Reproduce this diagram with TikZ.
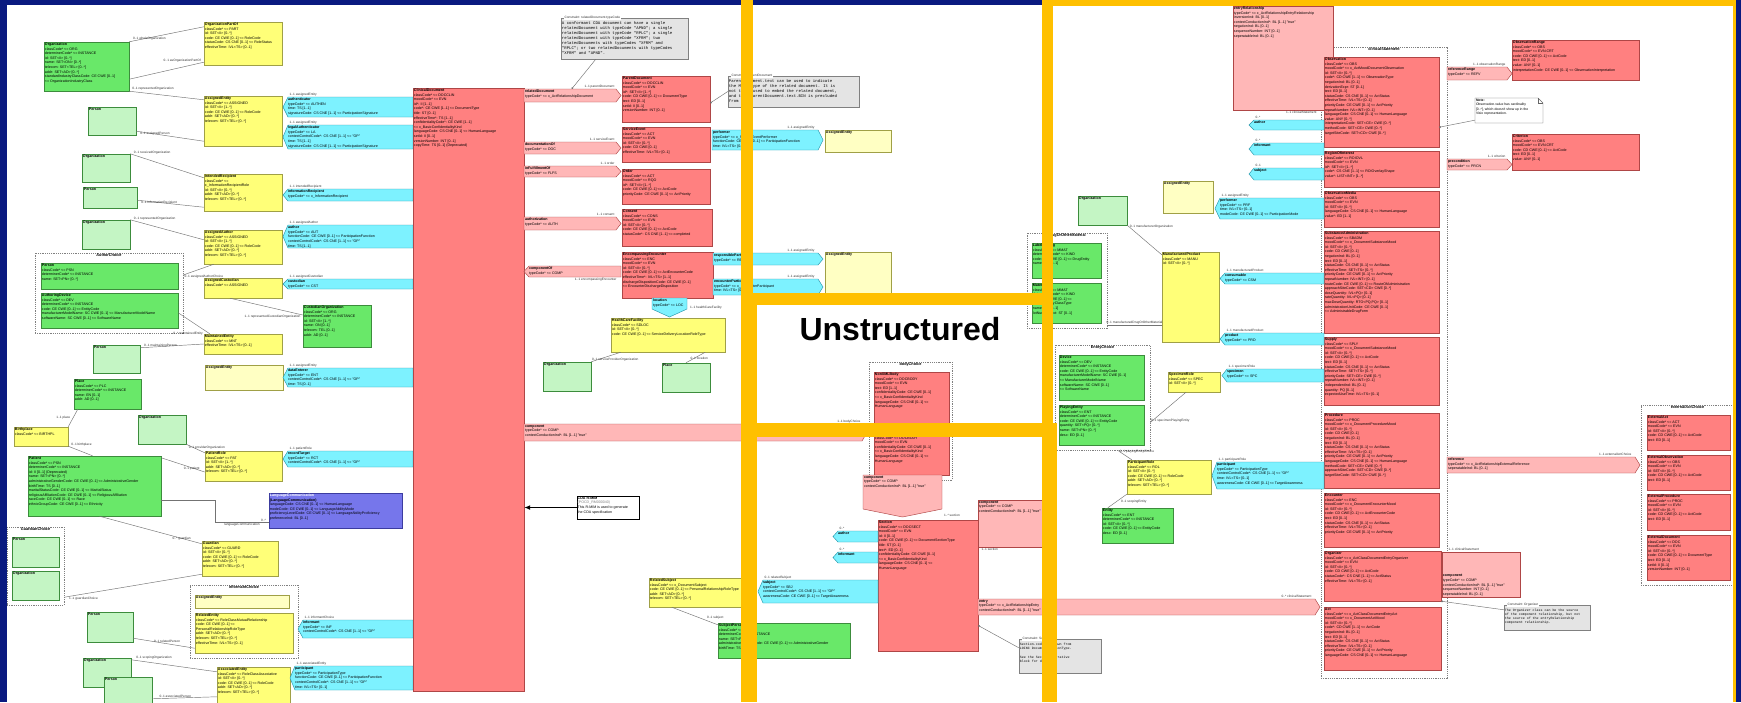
\documentclass[tikz,border=0pt]{standalone}
\usepackage{fontspec}
\usetikzlibrary{fit,arrows.meta}
\newfontfamily\dfont{Liberation Sans}
\newfontfamily\mfont{Liberation Mono}
\definecolor{bgblue}{RGB}{10,26,128}
\definecolor{goldbar}{RGB}{255,192,0}
\definecolor{actfill}{RGB}{255,128,128}
\definecolor{actline}{RGB}{175,70,70}
\definecolor{relfill}{RGB}{255,183,183}
\definecolor{rolefill}{RGB}{255,255,120}
\definecolor{roleline}{RGB}{160,160,70}
\definecolor{refrolefill}{RGB}{255,255,195}
\definecolor{entfill}{RGB}{105,232,105}
\definecolor{entline}{RGB}{60,140,60}
\definecolor{refentfill}{RGB}{196,245,196}
\definecolor{partfill}{RGB}{125,242,255}
\definecolor{partline}{RGB}{40,150,170}
\definecolor{langfill}{RGB}{118,118,235}
\definecolor{langline}{RGB}{60,60,160}
\definecolor{notefill}{RGB}{228,228,228}
\tikzset{
  base/.style={inner sep=0pt, line width=0.45pt},
  act/.style={base, draw=actline, fill=actfill},
  rel/.style={base, draw=actline, fill=relfill},
  role/.style={base, draw=roleline, fill=rolefill},
  rrole/.style={base, draw=roleline, fill=refrolefill},
  ent/.style={base, draw=entline, fill=entfill},
  rent/.style={base, draw=entline, fill=refentfill},
  part/.style={base, draw=partline, fill=partfill},
  langc/.style={base, draw=langline, fill=langfill},
  gnote/.style={base, draw=black!50, fill=notefill},
  choicebox/.style={base, draw=black!50, dash pattern=on 1.2pt off 1pt},
  txt/.style={font=\dfont\fontsize{3.6}{4.6}\selectfont, align=left, inner sep=1pt, text=black},
  mtxt/.style={font=\mfont\fontsize{4}{4.9}\selectfont, align=left, inner sep=1pt, text=black},
  ctitle/.style={font=\dfont\bfseries\fontsize{3.8}{4.6}\selectfont, inner sep=1pt},
  lab/.style={font=\dfont\fontsize{3.2}{3.8}\selectfont, inner sep=0.6pt, text=black!80},
  conn/.style={draw=black!55, line width=0.45pt},
  dotend/.style={conn, -{Circle[length=1.8pt]}},
}
\newcommand\cls[7]{%
  \node[#2, fit={(#3,#4) (#5,#6)}] (#1) {};
  \node[txt, anchor=north west] (#1-t) at (#1.north west) {#7};}
\newcommand\ptrL[7]{%
  \path[#2] ({#3+5},#4) -- (#5,#4) -- (#5,#6) -- ({#3+5},#6) -- (#3,{(#4+#6)/2}) -- cycle;
  \node[fit={(#3,#4) (#5,#6)}, inner sep=0pt] (#1) {};
  \node[txt, anchor=north west] (#1-t) at ([xshift=4pt]#1.north west) {#7};}
\newcommand\ptrR[7]{%
  \path[#2] (#3,#4) -- ({#5-5},#4) -- (#5,{(#4+#6)/2}) -- ({#5-5},#6) -- (#3,#6) -- cycle;
  \node[fit={(#3,#4) (#5,#6)}, inner sep=0pt] (#1) {};
  \node[txt, anchor=north west] (#1-t) at (#1.north west) {#7};}
\newcommand\ptrD[7]{%
  \path[#2] (#3,#4) -- (#5,#4) -- (#5,{#6-8}) -- ({(#3+#5)/2},#6) -- (#3,{#6-8}) -- cycle;
  \node[fit={(#3,#4) (#5,#6)}, inner sep=0pt] (#1) {};
  \node[txt, anchor=north west] (#1-t) at (#1.north west) {#7};}
\newcommand\chbox[6]{%
  \node[choicebox, fit={(#2,#3) (#4,#5)}] (#1) {};
  \node[ctitle, anchor=north] (#1-t) at (#1.north) {#6};}
\newcommand\plab[3]{\node[lab, anchor=south west] (#1-l) at ([xshift=#2]#1.north west) {#3};}
\newcommand\plabr[3]{\node[lab, anchor=south east] (#1-l) at ([xshift=#2]#1.north east) {#3};}
\begin{document}
\begin{tikzpicture}[x=1pt,y=-1pt]
\useasboundingbox (0,0) rectangle (1741,702);
\fill[bgblue] (0,0) rectangle (1741,702);
\fill[white] (7,5) rectangle (1736,702);

% ================= LEFT PANEL =================
\cls{org1}{ent}{44}{42}{129}{91}{\textbf{Organization}\\classCode* <= ORG\\determinerCode* <= INSTANCE\\id: SET<II> [0..*]\\name: SET<ON> [0..*]\\telecom: SET<TEL> [0..*]\\addr: SET<AD> [0..*]\\standardIndustryClassCode: CE CWE [0..1]\\<= OrganizationIndustryClass}
\cls{orgPart}{role}{204}{22}{282}{65}{\textbf{OrganizationPartOf}\\classCode* <= PART\\id: SET<II> [0..*]\\code: CE CWE [0..1] <= RoleCode\\statusCode: CS CNE [0..1] <= RoleStatus\\effectiveTime: IVL<TS> [0..1]}
\cls{ae1}{role}{204}{96}{282}{146}{\textbf{AssignedEntity}\\classCode* <= ASSIGNED\\id: SET<II> [1..*]\\code: CE CWE [0..1] <= RoleCode\\addr: SET<AD> [0..*]\\telecom: SET<TEL> [0..*]}
\cls{per1}{rent}{88}{107}{136}{135}{\textbf{Person}}
\ptrL{authen}{part}{283}{97}{413}{117}{\textbf{authenticator}\\typeCode* <= AUTHEN\\time: TS [1..1]\\signatureCode: CS CNE [1..1] <= ParticipationSignature}
\ptrL{legal}{part}{283}{125}{413}{149}{\textbf{legalAuthenticator}\\typeCode* <= LA\\contextControlCode*: CS CNE [1..1] <= "OP"\\time: TS [1..1]\\signatureCode: CS CNE [1..1] <= ParticipationSignature}
\cls{org2}{rent}{82}{154}{130}{182}{\textbf{Organization}}
\cls{per2}{rent}{83}{187}{137}{208}{\textbf{Person}}
\cls{intRec}{role}{204}{174}{282}{211}{\textbf{IntendedRecipient}\\classCode* <=\\x\_InformationRecipientRole\\id: SET<II> [0..*]\\addr: SET<AD> [0..*]\\telecom: SET<TEL> [0..*]}
\ptrL{infoRec}{part}{283}{189}{413}{201}{\textbf{informationRecipient}\\typeCode* <= x\_InformationRecipient}
\cls{org3}{rent}{82}{220}{130}{249}{\textbf{Organization}}
\cls{asAuthor}{role}{204}{230}{282}{264}{\textbf{AssignedAuthor}\\classCode* <= ASSIGNED\\id: SET<II> [1..*]\\code: CE CWE [0..1] <= RoleCode\\addr: SET<AD> [0..*]\\telecom: SET<TEL> [0..*]}
\ptrL{author}{part}{283}{225}{413}{248}{\textbf{author}\\typeCode* <= AUT\\functionCode: CE CWE [0..1] <= ParticipationFunction\\contextControlCode*: CS CNE [1..1] <= "OP"\\time: TS [1..1]}
\chbox{authChoice}{35}{253}{183}{333}{AuthorChoice}
\cls{per3}{ent}{41}{263}{178}{289}{\textbf{Person}\\classCode* <= PSN\\determinerCode* <= INSTANCE\\name: SET<PN> [0..*]}
\cls{authDev}{ent}{41}{293}{178}{328}{\textbf{AuthoringDevice}\\classCode* <= DEV\\determinerCode* <= INSTANCE\\code: CE CWE [0..1] <= EntityCode\\manufacturerModelName: SC CWE [0..1] <= ManufacturerModelName\\softwareName: SC CWE [0..1] <= SoftwareName}
\cls{asCust}{role}{204}{278}{282}{298}{\textbf{AssignedCustodian}\\classCode* <= ASSIGNED}
\ptrL{custodian}{part}{283}{279}{413}{289}{\textbf{custodian}\\typeCode* <= CST}
\cls{custOrg}{ent}{303}{305}{371}{347}{\textbf{CustodianOrganization}\\classCode* <= ORG\\determinerCode* <= INSTANCE\\id: SET<II> [1..*]\\name: ON [0..1]\\telecom: TEL [0..1]\\addr: AD [0..1]}
\cls{maint}{role}{204}{334}{282}{354}{\textbf{MaintainedEntity}\\classCode* <= MNT\\effectiveTime: IVL<TS> [0..1]}
\cls{per4}{rent}{93}{345}{140}{373}{\textbf{Person}}
\cls{ae2}{rrole}{205}{365}{283}{390}{\textbf{AssignedEntity}}
\ptrL{dataEnt}{part}{283}{368}{413}{387}{\textbf{dataEnterer}\\typeCode* <= ENT\\contextControlCode*: CS CNE [1..1] <= "OP"\\time: TS [0..1]}
\cls{place}{ent}{74}{379}{141}{409}{\textbf{Place}\\classCode* <= PLC\\determinerCode* <= INSTANCE\\name: EN [0..1]\\addr: AD [0..1]}
\cls{birth}{role}{14}{427}{68}{446}{\textbf{Birthplace}\\classCode* <= BIRTHPL}
\cls{org4}{rent}{138}{415}{186}{444}{\textbf{Organization}}
\cls{patRole}{role}{205}{451}{282}{481}{\textbf{PatientRole}\\classCode* <= PAT\\id: SET<II> [1..*]\\addr: SET<AD> [0..*]\\telecom: SET<TEL> [0..*]}
\ptrL{recTarget}{part}{283}{451}{413}{467}{\textbf{recordTarget}\\typeCode* <= RCT\\contextControlCode*: CS CNE [1..1] <= "OP"}
\cls{patient}{ent}{28}{456}{161}{516}{\textbf{Patient}\\classCode* <= PSN\\determinerCode* <= INSTANCE\\id: II [0..1] (Deprecated)\\name: SET<PN> [0..*]\\administrativeGenderCode: CE CWE [0..1] <= AdministrativeGender\\birthTime: TS [0..1]\\maritalStatusCode: CE CWE [0..1] <= MaritalStatus\\religiousAffiliationCode: CE CWE [0..1] <= ReligiousAffiliation\\raceCode: CE CWE [0..1] <= Race\\ethnicGroupCode: CE CWE [0..1] <= Ethnicity}
\cls{lang}{langc}{269}{493}{402}{528}{\color{white}\textbf{LanguageCommunication}\\\textbf{(LanguageCommunication)}\\languageCode: CS CNE [0..1] <= HumanLanguage\\modeCode: CE CWE [0..1] <= LanguageAbilityMode\\proficiencyLevelCode: CE CWE [0..1] <= LanguageAbilityProficiency\\preferenceInd: BL [0..1]}
\chbox{guardChoice}{7}{527}{64}{605}{GuardianChoice}
\cls{per5}{rent}{12}{537}{59}{567}{\textbf{Person}}
\cls{org5}{rent}{12}{571}{59}{600}{\textbf{Organization}}
\cls{guardian}{role}{202}{541}{278}{576}{\textbf{Guardian}\\classCode* <= GUARD\\id: SET<II> [0..*]\\code: CE CWE [0..1] <= RoleCode\\addr: SET<AD> [0..*]\\telecom: SET<TEL> [0..*]}
\chbox{infChoice}{190}{585}{298}{658}{informantChoice}
\cls{ae3}{rrole}{195}{595}{289}{608}{\textbf{AssignedEntity}}
\cls{relEnt}{role}{195}{613}{293}{653}{\textbf{RelatedEntity}\\classCode* <= RoleClassMutualRelationship\\code: CE CWE [0..1] <=\\PersonalRelationshipRoleType\\addr: SET<AD> [0..*]\\telecom: SET<TEL> [0..*]\\effectiveTime: IVL<TS> [0..1]}
\cls{per6}{rent}{87}{612}{133}{642}{\textbf{Person}}
\ptrL{informant}{part}{298}{620}{413}{638}{\textbf{informant}\\typeCode* <= INF\\contextControlCode*: CS CNE [1..1] <= "OP"}
\cls{org6}{rent}{83}{658}{131}{687}{\textbf{Organization}}
\cls{per7}{rent}{104}{677}{152}{708}{\textbf{Person}}
\cls{assocEnt}{role}{217}{667}{290}{708}{\textbf{AssociatedEntity}\\classCode* <= RoleClassAssociative\\id: SET<II> [0..*]\\code: CE CWE [0..1] <= RoleCode\\addr: SET<AD> [0..*]\\telecom: SET<TEL> [0..*]}
\ptrL{partic}{part}{290}{666}{413}{690}{\textbf{participant}\\typeCode* <= ParticipationType\\functionCode: CE CWE [0..1] <= ParticipationFunction\\contextControlCode*: CS CNE [1..1] <= "OP"\\time: IVL<TS> [0..1]}

\cls{clinDoc}{act}{413}{88}{524}{691}{\textbf{ClinicalDocument}\\classCode* <= DOCCLIN\\moodCode* <= EVN\\id*: II [1..1]\\code*: CE CWE [1..1] <= DocumentType\\title: ST [0..1]\\effectiveTime*: TS [1..1]\\confidentialityCode*: CE CWE [1..1]\\<= x\_BasicConfidentialityKind\\languageCode: CS CNE [0..1] <= HumanLanguage\\setId: II [0..1]\\versionNumber: INT [0..1]\\copyTime: TS [0..1] (Deprecated)}

\node[gnote, fit={(561,18) (688,59)}] (note1) {};
\node[mtxt, anchor=north west] (note1-t) at ([yshift=-3pt]note1.north west) {A conformant CDA document can have a single\\relatedDocument with typeCode "APND"; a single\\relatedDocument with typeCode "RPLC"; a single\\relatedDocument with typeCode "XFRM"; two\\relatedDocuments with typeCodes "XFRM" and\\"RPLC"; or two relatedDocuments with typeCodes\\"XFRM" and "APND".};
\node[lab, anchor=west, fill=white] (note1-h) at ([xshift=3pt]note1.north west) {Constraint: relatedDocument.typeCode};

\ptrR{relDoc}{rel}{524}{89}{621}{102}{\textbf{relatedDocument}\\typeCode* <= x\_ActRelationshipDocument}
\cls{parentDoc}{act}{622}{76}{710}{122}{\textbf{ParentDocument}\\classCode* <= DOCCLIN\\moodCode* <= EVN\\id*: SET<II> [1..*]\\code: CD CWE [0..1] <= DocumentType\\text: ED [0..1]\\setId: II [0..1]\\versionNumber: INT [0..1]}
\ptrR{docOf}{rel}{524}{142}{621}{154}{\textbf{documentationOf}\\typeCode* <= DOC}
\cls{servEvt}{act}{622}{127}{710}{162}{\textbf{ServiceEvent}\\classCode* <= ACT\\moodCode* <= EVN\\id: SET<II> [0..*]\\code: CD CWE [0..1]\\effectiveTime: IVL<TS> [0..1]}
\ptrR{perf1}{part}{712}{130}{823}{150}{\textbf{performer}\\typeCode* <= x\_ServiceEventPerformer\\functionCode: CE CWE [0..1] <= ParticipationFunction\\time: IVL<TS> [0..1]}
\cls{ae4}{rrole}{825}{130}{891}{152}{\textbf{AssignedEntity}}
\ptrR{inFul}{rel}{524}{166}{621}{177}{\textbf{inFulfillmentOf}\\typeCode* <= FLFS}
\cls{order}{act}{622}{169}{710}{204}{\textbf{Order}\\classCode* <= ACT\\moodCode* <= RQO\\id*: SET<II> [1..*]\\code: CE CWE [0..1] <= ActCode\\priorityCode: CE CWE [0..1] <= ActPriority}
\ptrR{authz}{rel}{524}{217}{621}{230}{\textbf{authorization}\\typeCode* <= AUTH}
\cls{consent}{act}{622}{209}{712}{246}{\textbf{Consent}\\classCode* <= CONS\\moodCode* <= EVN\\id: SET<II> [0..*]\\code: CE CWE [0..1] <= ActCode\\statusCode*: CS CNE [1..1] <= completed}
\ptrL{compOf}{rel}{524}{266}{621}{277}{\textbf{componentOf}\\typeCode* <= COMP}
\cls{encEnc}{act}{622}{252}{713}{298}{\textbf{EncompassingEncounter}\\classCode* <= ENC\\moodCode* <= EVN\\id: SET<II> [0..*]\\code: CE CWE [0..1] <= ActEncounterCode\\effectiveTime*: IVL<TS> [1..1]\\dischargeDispositionCode: CE CWE [0..1]\\<= EncounterDischargeDisposition}
\ptrR{respParty}{part}{713}{253}{823}{265}{\textbf{responsibleParty}\\typeCode* <= RESP}
\ptrR{encPart}{part}{713}{279}{823}{295}{\textbf{encounterParticipant}\\typeCode* <= x\_EncounterParticipant\\time: IVL<TS> [0..1]}
\cls{ae5}{rrole}{825}{252}{891}{300}{\textbf{AssignedEntity}}
\ptrD{location}{part}{652}{298}{687}{317}{\textbf{location}\\typeCode* <= LOC}
\cls{hcf}{role}{611}{318}{725}{352}{\textbf{HealthCareFacility}\\classCode* <= SDLOC\\id: SET<II> [0..*]\\code: CE CWE [0..1] <= ServiceDeliveryLocationRoleType}
\cls{org7}{rent}{543}{362}{591}{391}{\textbf{Organization}}
\cls{place2}{rent}{662}{363}{710}{392}{\textbf{Place}}
\ptrR{comp1}{rel}{524}{424}{867}{441}{\textbf{component}\\typeCode* <= COMP\\contextConductionInd*: BL [1..1] "true"}
\node[base, draw=black, line width=1pt, fill=white, fit={(577,496) (639,519)}] (cdaNote) {};
\node[txt, anchor=north west] (cdaNote-t) at (cdaNote.north west) {\textbf{CDA R-MIM}\\{\color{black!50}(POCD\_RM000040)}\\This R-MIM is used to generate\\the CDA specification};
\draw[line width=1.3pt, -{Latex[length=6pt,width=5pt]}] (cdaNote.west) -- (cdaNote.west -| clinDoc.east);
\cls{relSubj}{role}{649}{578}{752}{607}{\textbf{RelatedSubject}\\classCode* <= x\_DocumentSubject\\code: CE CWE [0..1] <= PersonalRelationshipRoleType\\addr: SET<AD> [0..*]\\telecom: SET<TEL> [0..*]}
\cls{subjPer}{ent}{718}{623}{850}{658}{\textbf{SubjectPerson}\\classCode* <= PSN\\determinerCode* <= INSTANCE\\name: SET<PN> [0..*]\\administrativeGenderCode: CE CWE [0..1] <= AdministrativeGender\\birthTime: TS [0..1]}

% ================= MIDDLE PANEL =================
\node[gnote, fit={(728,76) (859,107)}] (note2) {};
\node[mtxt, anchor=north west] (note2-t) at ([yshift=-3pt]note2.north west) {ParentDocument.text can be used to indicate\\the MIME type of the related document. It is\\not to be used to embed the related document,\\and thus ParentDocument.text.BIN is precluded\\from use.};
\node[lab, anchor=west, fill=white] (note2-h) at ([xshift=3pt]note2.north west) {Constraint: ParentDocument};

\node[font=\dfont\bfseries\fontsize{32}{36}\selectfont, anchor=base, inner sep=0pt] (unstr) at (900,340) {Unstructured};
\chbox{bodyChoice}{869}{362}{952}{480}{bodyChoice}
\cls{nonXML}{act}{874}{372}{949}{430}{\textbf{NonXMLBody}\\classCode* <= DOCBODY\\moodCode* <= EVN\\text: ED [1..1]\\confidentialityCode: CE CWE [0..1]\\<= x\_BasicConfidentialityKind\\languageCode: CS CNE [0..1] <=\\HumanLanguage}
\cls{structBody}{act}{874}{431}{949}{475}{\textbf{StructuredBody}\\classCode* <= DOCBODY\\moodCode* <= EVN\\confidentialityCode: CE CWE [0..1]\\<= x\_BasicConfidentialityKind\\languageCode: CS CNE [0..1] <=\\HumanLanguage}
\ptrD{comp2}{rel}{863}{475}{942}{517}{\textbf{component}\\typeCode* <= COMP\\contextConductionInd*: BL [1..1] "true"}
\cls{section}{act}{878}{520}{978}{651}{\textbf{Section}\\classCode* <= DOCSECT\\moodCode* <= EVN\\id: II [0..1]\\code: CE CWE [0..1] <= DocumentSectionType\\title: ST [0..1]\\text*: ED [0..1]\\confidentialityCode: CE CWE [0..1]\\<= x\_BasicConfidentialityKind\\languageCode: CS CNE [0..1] <=\\HumanLanguage}
\ptrL{author2}{part}{833}{531}{878}{542}{\textbf{author}}
\ptrL{inform2}{part}{833}{552}{878}{563}{\textbf{informant}}
\ptrL{subj2}{part}{758}{580}{878}{603}{\textbf{subject}\\typeCode* <= SBJ\\contextControlCode*: CS CNE [1..1] <= "OP"\\awarenessCode: CE CWE [0..1] <= TargetAwareness}
\cls{comp3}{rel}{978}{500}{1052}{547}{\textbf{component}\\typeCode* <= COMP\\contextConductionInd*: BL [1..1] "true"}
\ptrR{entry}{rel}{978}{599}{1320}{615}{\textbf{entry}\\typeCode* <= x\_ActRelationshipEntry\\contextConductionInd*: BL [1..1] "true"}
\node[gnote, fit={(1019,639) (1101,673)}] (note3) {};
\node[mtxt, font=\mfont\fontsize{3.3}{4.3}\selectfont, anchor=north west] (note3-t) at ([yshift=-3pt]note3.north west) {Section.code is drawn from\\LOINC DocumentSectionType.\\\\See the Section narrative\\block for details.};
\node[lab, anchor=west, fill=white] (note3-h) at ([xshift=3pt]note3.north west) {Constraint: Section};

% ================= RIGHT PANEL =================
\chbox{clinStmt}{1321}{47}{1447}{678}{clinicalStatement}
\cls{entryRel}{rel}{1233}{6}{1333}{110}{\textbf{entryRelationship}\\typeCode* <= x\_ActRelationshipEntryRelationship\\inversionInd: BL [0..1]\\contextConductionInd*: BL [1..1] "true"\\negationInd: BL [0..1]\\sequenceNumber: INT [0..1]\\seperatableInd: BL [0..1]}
\cls{obs}{act}{1324}{57}{1439}{147}{\textbf{Observation}\\classCode* <= OBS\\moodCode* <= x\_ActMoodDocumentObservation\\id: SET<II> [0..*]\\code*: CD CWE [1..1] <= ObservationType\\negationInd: BL [0..1]\\derivationExpr: ST [0..1]\\text: ED [0..1]\\statusCode: CS CNE [0..1] <= ActStatus\\effectiveTime: IVL<TS> [0..1]\\priorityCode: CE CWE [0..1] <= ActPriority\\repeatNumber: IVL<INT> [0..1]\\languageCode: CS CNE [0..1] <= HumanLanguage\\value: ANY [0..*]\\interpretationCode: SET<CE> CWE [0..*]\\methodCode: SET<CE> CWE [0..*]\\targetSiteCode: SET<CD> CWE [0..*]}
\cls{roi}{act}{1324}{151}{1439}{187}{\textbf{RegionOfInterest}\\classCode* <= ROIOVL\\moodCode* <= EVN\\id*: SET<II> [1..*]\\code*: CS CNE [1..1] <= ROIOverlayShape\\value*: LIST<INT> [1..*]}
\cls{obsMedia}{act}{1324}{191}{1439}{227}{\textbf{ObservationMedia}\\classCode* <= OBS\\moodCode* <= EVN\\id: SET<II> [0..*]\\languageCode: CS CNE [0..1] <= HumanLanguage\\value*: ED [1..1]}
\cls{subAdm}{act}{1324}{231}{1439}{333}{\textbf{SubstanceAdministration}\\classCode* <= SBADM\\moodCode* <= x\_DocumentSubstanceMood\\id: SET<II> [0..*]\\code: CD CWE [0..1]\\negationInd: BL [0..1]\\text: ED [0..1]\\statusCode: CS CNE [0..1] <= ActStatus\\effectiveTime: SET<TS> [0..*]\\priorityCode: CE CWE [0..1] <= ActPriority\\repeatNumber: IVL<INT> [0..1]\\routeCode: CE CWE [0..1] <= RouteOfAdministration\\approachSiteCode: SET<CD> CWE [0..*]\\doseQuantity: IVL<PQ> [0..1]\\rateQuantity: IVL<PQ> [0..1]\\maxDoseQuantity: RTO<PQ,PQ> [0..1]\\administrationUnitCode: CE CWE [0..1]\\<= AdministrableDrugForm}
\cls{supply}{act}{1324}{337}{1439}{405}{\textbf{Supply}\\classCode* <= SPLY\\moodCode* <= x\_DocumentSubstanceMood\\id: SET<II> [0..*]\\code: CD CWE [0..1] <= ActCode\\text: ED [0..1]\\statusCode: CS CNE [0..1] <= ActStatus\\effectiveTime: SET<TS> [0..*]\\priorityCode: SET<CE> CWE [0..*]\\repeatNumber: IVL<INT> [0..1]\\independentInd: BL [0..1]\\quantity: PQ [0..1]\\expectedUseTime: IVL<TS> [0..1]}
\cls{proc}{act}{1324}{413}{1439}{488}{\textbf{Procedure}\\classCode* <= PROC\\moodCode* <= x\_DocumentProcedureMood\\id: SET<II> [0..*]\\code: CD CWE [0..1]\\negationInd: BL [0..1]\\text: ED [0..1]\\statusCode: CS CNE [0..1] <= ActStatus\\effectiveTime: IVL<TS> [0..1]\\priorityCode: CE CWE [0..1] <= ActPriority\\languageCode: CS CNE [0..1] <= HumanLanguage\\methodCode: SET<CE> CWE [0..*]\\approachSiteCode: SET<CD> CWE [0..*]\\targetSiteCode: SET<CD> CWE [0..*]}
\cls{encB}{act}{1324}{493}{1439}{547}{\textbf{Encounter}\\classCode* <= ENC\\moodCode* <= x\_DocumentEncounterMood\\id: SET<II> [0..*]\\code: CD CWE [0..1] <= ActEncounterCode\\text: ED [0..1]\\statusCode: CS CNE [0..1] <= ActStatus\\effectiveTime: IVL<TS> [0..1]\\priorityCode: CE CWE [0..1] <= ActPriority}
\cls{organizer}{act}{1324}{551}{1441}{601}{\textbf{Organizer}\\classCode* <= x\_ActClassDocumentEntryOrganizer\\moodCode* <= EVN\\id: SET<II> [0..*]\\code: CD CWE [0..1] <= ActCode\\statusCode*: CS CNE [1..1] <= ActStatus\\effectiveTime: IVL<TS> [0..1]}
\cls{actB}{act}{1324}{607}{1441}{670}{\textbf{Act}\\classCode* <= x\_ActClassDocumentEntryAct\\moodCode* <= x\_DocumentActMood\\id: SET<II> [0..*]\\code*: CD CWE [1..1] <= ActCode\\negationInd: BL [0..1]\\text: ED [0..1]\\statusCode: CS CNE [0..1] <= ActStatus\\effectiveTime: IVL<TS> [0..1]\\priorityCode: CE CWE [0..1] <= ActPriority\\languageCode: CS CNE [0..1] <= HumanLanguage}

\ptrL{author3}{part}{1249}{120}{1324}{130}{\textbf{author}}
\ptrL{inform3}{part}{1249}{143}{1324}{155}{\textbf{informant}}
\ptrL{subj3}{part}{1249}{168}{1324}{180}{\textbf{subject}}
\cls{ae6}{rrole}{1163}{181}{1213}{213}{\textbf{AssignedEntity}}
\ptrL{perf3}{part}{1215}{198}{1324}{219}{\textbf{performer}\\typeCode* <= PRF\\time: IVL<TS> [0..1]\\modeCode: CE CWE [0..1] <= ParticipationMode}
\cls{org8}{rent}{1078}{196}{1127}{225}{\textbf{Organization}}
\cls{manuProd}{role}{1162}{252}{1219}{342}{\textbf{ManufacturedProduct}\\classCode* <= MANU\\id: SET<II> [0..*]}
\ptrL{consum}{part}{1220}{273}{1324}{284}{\textbf{consumable}\\typeCode* <= CSM}
\ptrL{product}{part}{1220}{333}{1324}{345}{\textbf{product}\\typeCode* <= PRD}
\chbox{drugChoice}{1027}{233}{1107}{328}{drugOrOtherMaterial}
\cls{labDrug}{ent}{1032}{243}{1101}{278}{\textbf{LabeledDrug}\\classCode* <= MMAT\\determinerCode* <= KIND\\code: CE CWE [0..1] <= DrugEntity\\name: EN [0..1]}
\cls{material}{ent}{1032}{283}{1101}{323}{\textbf{Material}\\classCode* <= MMAT\\determinerCode* <= KIND\\code: CE CWE [0..1] <=\\MaterialEntityClassType\\name: EN [0..1]\\lotNumberText: ST [0..1]}
\chbox{entChoice}{1055}{345}{1150}{450}{EntityChoice}
\cls{device}{ent}{1059}{355}{1144}{400}{\textbf{Device}\\classCode* <= DEV\\determinerCode* <= INSTANCE\\code: CE CWE [0..1] <= EntityCode\\manufacturerModelName: SC CWE [0..1]\\<= ManufacturerModelName\\softwareName: SC CWE [0..1]\\<= SoftwareName}
\cls{playEnt}{ent}{1059}{405}{1144}{445}{\textbf{PlayingEntity}\\classCode* <= ENT\\determinerCode* <= INSTANCE\\code: CE CWE [0..1] <= EntityCode\\quantity: SET<PQ> [0..*]\\name: SET<PN> [0..*]\\desc: ED [0..1]}
\cls{specRole}{role}{1168}{372}{1220}{392}{\textbf{SpecimenRole}\\classCode* <= SPEC\\id: SET<II> [0..*]}
\ptrL{specimen}{part}{1222}{369}{1324}{382}{\textbf{specimen}\\typeCode* <= SPC}
\cls{partRole}{role}{1127}{460}{1211}{494}{\textbf{ParticipantRole}\\classCode* <= ROL\\id: SET<II> [0..*]\\code: CE CWE [0..1] <= RoleCode\\addr: SET<AD> [0..*]\\telecom: SET<TEL> [0..*]}
\ptrL{partic2}{part}{1212}{462}{1324}{489}{\textbf{participant}\\typeCode* <= ParticipationType\\contextControlCode*: CS CNE [1..1] <= "OP"\\time: IVL<TS> [0..1]\\awarenessCode: CE CWE [0..1] <= TargetAwareness}
\cls{entity}{ent}{1102}{508}{1173}{543}{\textbf{Entity}\\classCode* <= ENT\\determinerCode* <= INSTANCE\\id: SET<II> [0..*]\\code: CE CWE [0..1] <= EntityCode\\desc: ED [0..1]}

\ptrR{refRange}{rel}{1447}{67}{1512}{80}{\textbf{referenceRange}\\typeCode* <= REFV}
\cls{obsRange}{act}{1512}{40}{1639}{80}{\textbf{ObservationRange}\\classCode* <= OBS\\moodCode* <= EVN.CRT\\code: CD CWE [0..1] <= ActCode\\text: ED [0..1]\\value: ANY [0..1]\\interpretationCode: CE CWE [0..1] <= ObservationInterpretation}
\path[draw=black!60, fill=white, line width=0.4pt] (1475,98) -- (1538,98) -- (1543,103) -- (1543,123) -- (1475,123) -- cycle;
\draw[black!60, line width=0.4pt] (1538,98) -- (1538,103) -- (1543,103);
\node[fit={(1475,98) (1543,123)}, inner sep=0pt] (note4) {};
\node[txt, font=\dfont\fontsize{3.4}{4.5}\selectfont, anchor=north west] (note4-t) at (note4.north west) {\textbf{Note:}\\Observation.value has cardinality\\{}[0..*], which doesn't show up in the\\Visio representation.};
\ptrR{precond}{rel}{1447}{159}{1512}{170}{\textbf{precondition}\\typeCode* <= PRCN}
\cls{criterion}{act}{1512}{134}{1639}{170}{\textbf{Criterion}\\classCode* <= OBS\\moodCode* <= EVN.CRT\\code: CD CWE [0..1] <= ActCode\\text: ED [0..1]\\value: ANY [0..1]}
\chbox{extChoice}{1641}{405}{1734}{585}{externalActChoice}
\cls{extAct}{act}{1647}{415}{1730}{450}{\textbf{ExternalAct}\\classCode* <= ACT\\moodCode* <= EVN\\id: SET<II> [0..*]\\code: CD CWE [0..1] <= ActCode\\text: ED [0..1]}
\cls{extObs}{act}{1647}{455}{1730}{490}{\textbf{ExternalObservation}\\classCode* <= OBS\\moodCode* <= EVN\\id: SET<II> [0..*]\\code: CD CWE [0..1] <= ActCode\\text: ED [0..1]}
\cls{extProc}{act}{1647}{494}{1730}{530}{\textbf{ExternalProcedure}\\classCode* <= PROC\\moodCode* <= EVN\\id: SET<II> [0..*]\\code: CD CWE [0..1] <= ActCode\\text: ED [0..1]}
\cls{extDoc}{act}{1647}{535}{1730}{580}{\textbf{ExternalDocument}\\classCode* <= DOC\\moodCode* <= EVN\\id: SET<II> [0..*]\\code: CD CWE [0..1] <= DocumentType\\text: ED [0..1]\\setId: II [0..1]\\versionNumber: INT [0..1]}
\ptrR{reference}{rel}{1447}{457}{1640}{473}{\textbf{reference}\\typeCode* <= x\_ActRelationshipExternalReference\\seperatableInd: BL [0..1]}
\node[rel, fit={(1442,552) (1520,597)}] (comp4) {};
\node[txt, anchor=south west] (comp4-t) at (comp4.south west) {\textbf{component}\\typeCode* <= COMP\\contextConductionInd*: BL [1..1] "true"\\sequenceNumber: INT [0..1]\\seperatableInd: BL [0..1]};
\node[gnote, fit={(1504,605) (1590,630)}] (note5) {};
\node[mtxt, font=\mfont\fontsize{3.3}{4.2}\selectfont, anchor=north west] (note5-t) at ([yshift=-3pt]note5.north west) {The Organizer class can be the source\\of the component relationship, but not\\the source of the entryRelationship\\component relationship.};
\node[lab, anchor=west, fill=white] (note5-h) at ([xshift=3pt]note5.north west) {Constraint: Organizer};

% ================= CONNECTORS =================
\draw[conn] (org1.north east) -- ([yshift=-5pt]orgPart.north west) node[lab, pos=0.04, anchor=south west] (l1) {0..1 wholeOrganization};
\draw[conn] ([yshift=12pt]org1.south east) -- ([yshift=3pt]orgPart.south west) node[lab, pos=0.97, anchor=south east] (l2) {0..1 asOrganizationPartOf};
\draw[conn] (org1.south east) -- ([yshift=-4pt]ae1.north west) node[lab, pos=0.03, anchor=south west] (l3) {0..1 representedOrganization};
\draw[conn] ([yshift=4pt]per1.south east) -- ([yshift=5pt]ae1.south west) node[lab, pos=0.05, anchor=north west] (l4) {0..1 assignedPerson};
\draw[conn] (org2.north east) -- ([yshift=-4pt]intRec.north west) node[lab, pos=0.04, anchor=south west] (l5) {0..1 receivedOrganization};
\draw[conn] ([yshift=8pt]per2.south east) -- ([yshift=4pt]intRec.south west) node[lab, pos=0.05, anchor=north west] (l6) {0..1 informationRecipient};
\draw[conn] (org3.north east) -- ([yshift=-10pt]asAuthor.north west) node[lab, pos=0.04, anchor=south west] (l7) {0..1 representedOrganization};
\draw[conn] ([yshift=18pt]authChoice.east) -- ([xshift=10pt]asAuthor.south west) node[lab, pos=0.02, anchor=north west] (l8) {0..1 assignedAuthorChoice};
\draw[conn] ([yshift=-20pt]authDev.north east) -- ([xshift=6pt]maint.north west) node[lab, pos=0.9, anchor=north east, xshift=-3pt] (l9) {0..* maintainedEntity};
\draw[conn] ([xshift=-13pt]asCust.south) -- ([yshift=11pt]custOrg.west) node[lab, pos=0.98, anchor=north east] (l10) {1..1 representedCustodianOrganization};
\draw[conn] ([yshift=-3pt]per4.north east) -- (maint.west) node[lab, pos=0.05, anchor=south west] (l11) {0..1 maintainingPerson};
\draw[conn] (birth.north east) -- ([xshift=4pt]place.south west) node[lab, midway, anchor=east, xshift=-2pt] (l12) {1..1 place};
\draw[conn] (birth.south east) -- ([xshift=-2pt]patient.north) node[lab, pos=0.1, anchor=south west] (l13) {0..1 birthplace};
\draw[conn] ([yshift=-2pt]patient.north east) -- ([yshift=-6pt]patRole.west) node[lab, pos=0.9, anchor=south east] (l14) {0..1 patient};
\draw[conn] (org4.south east) -- ([yshift=-2pt]patRole.north west) node[lab, pos=0.1, anchor=north west] (l15) {0..1 providerOrganization};
\draw[conn] ([yshift=-14pt]patient.east) -- ++(54,0) |- ([yshift=-11.5pt]lang.west) node[lab, pos=0.75, anchor=north] (l16) {languageCommunication};
\node[lab, anchor=south east] (l16b) at ([yshift=-11.5pt, xshift=-2pt]lang.west) {0..*};
\draw[conn] ([xshift=5pt]patient.south) -- ([yshift=-3pt]guardian.north west) node[lab, pos=0.9, anchor=south east] (l17) {0..* guardian};
\draw[conn] ([yshift=8pt]guardChoice.south east) -- ([yshift=2pt]guardian.south west) node[lab, pos=0.03, anchor=north west] (l18) {1..1 guardianChoice};
\draw[conn] ([yshift=4pt]per6.south east) -- ([yshift=5pt]relEnt.south west) node[lab, pos=0.55, anchor=south] (l19) {0..1 relatedPerson};
\draw[conn] ([yshift=-2pt]org6.north east) -- ([yshift=-5pt]assocEnt.north west) node[lab, pos=0.05, anchor=south west] (l20) {0..1 scopingOrganization};
\draw[conn] ([yshift=-22pt]per7.north east) -- ([yshift=-30pt]assocEnt.north west) node[lab, pos=0.1, anchor=south west] (l21) {0..1 associatedPerson};
\draw[dotend] ([xshift=35pt]note1.south west) -- ([xshift=48pt]relDoc.north west);
\draw[dotend] (note2.west) -- ([yshift=-4pt]parentDoc.east);
\draw[conn] ([xshift=10pt]hcf.south west) -- (org7.north east) node[lab, pos=1, anchor=south west] (l22) {0..1 serviceProviderOrganization};
\draw[conn] ([xshift=-20pt]hcf.south east) -- (place2.north) node[lab, pos=0.8, anchor=south west] (l23) {0..1 location};
\draw[conn] ([xshift=23pt]relSubj.south west) -- ([yshift=-2pt]subjPer.north west) node[lab, pos=0.75, anchor=south west] (l24) {0..1 subject};
\draw[dotend] ([yshift=-9pt]note3.north west) -- ([yshift=-40pt]section.east);
\draw[conn] (org8.south east) -- ([yshift=-3pt]manuProd.north west) node[lab, pos=0.05, anchor=west] (l25) {0..1 manufacturerOrganization};
\coordinate (dcp) at ([yshift=3pt]drugChoice.south east);
\draw[conn] (dcp) -- (dcp -| manuProd.west) node[lab, midway, anchor=south] (l26) {0..1 manufacturedDrugOrOtherMaterial};
\draw[conn] ([xshift=-8pt]specRole.south) -- ([yshift=-25pt]entChoice.east) node[lab, pos=1, anchor=south west] (l27) {0..1 specimenPlayingEntity};
\draw[conn] ([xshift=15pt]entChoice.south) -- ([xshift=5pt]partRole.north west) node[lab, pos=0.1, anchor=west] (l28) {0..1 playingEntityChoice};
\draw[conn] (partRole.south west) -- ([xshift=6pt]entity.north west) node[lab, pos=0.55, anchor=west, xshift=4pt] (l29) {0..1 scopingEntity};
\draw[dotend] ([yshift=3pt]note4.south west) -- ([yshift=20pt]obs.south east);
\draw[dotend] ([yshift=-5pt]note5.north west) -- (organizer.south east);

% participation / act-relationship labels
\plab{authen}{6pt}{1..1 assignedEntity}
\plab{legal}{6pt}{1..1 assignedEntity}
\plab{infoRec}{6pt}{1..1 intendedRecipient}
\plab{author}{6pt}{1..1 assignedAuthor}
\plab{custodian}{6pt}{1..1 assignedCustodian}
\plab{dataEnt}{6pt}{1..1 assignedEntity}
\plab{recTarget}{6pt}{1..1 patientRole}
\plab{informant}{6pt}{1..1 informantChoice}
\plab{partic}{6pt}{1..1 associatedEntity}
\plabr{relDoc}{-6pt}{1..1 parentDocument}
\plabr{docOf}{-6pt}{1..1 serviceEvent}
\plabr{inFul}{-6pt}{1..1 order}
\plabr{authz}{-6pt}{1..1 consent}
\node[lab, anchor=north east] (compOf-l) at ([xshift=-4pt]compOf.south east) {1..1 encompassingEncounter};
\plabr{perf1}{-8pt}{1..1 assignedEntity}
\plabr{respParty}{-8pt}{1..1 assignedEntity}
\plabr{encPart}{-8pt}{1..1 assignedEntity}
\node[lab, anchor=west] (location-l) at ([xshift=2pt]location.east) {1..1 healthCareFacility};
\plabr{comp1}{-6pt}{1..1 bodyChoice}
\plab{subj2}{6pt}{0..1 relatedSubject}
\plab{author2}{6pt}{0..*}
\plab{inform2}{6pt}{0..*}
\node[lab, anchor=south west] (comp2-l) at ([xshift=1pt]comp2.south east) {1..* section};
\node[lab, anchor=north west] (comp3-l) at ([xshift=3pt]comp3.south west) {1..1 section};
\plabr{entry}{-8pt}{0..* clinicalStatement}
\node[lab, anchor=north east] (entryRel-l) at ([xshift=-16pt]entryRel.south east) {1..1 clinicalStatement};
\plab{author3}{6pt}{0..*}
\plab{inform3}{6pt}{0..*}
\plab{subj3}{6pt}{0..1}
\plab{perf3}{6pt}{1..1 assignedEntity}
\plab{consum}{6pt}{1..1 manufacturedProduct}
\plab{product}{6pt}{1..1 manufacturedProduct}
\plab{specimen}{6pt}{1..1 specimenRole}
\plab{partic2}{6pt}{1..1 participantRole}
\plabr{refRange}{-6pt}{1..1 observationRange}
\plabr{precond}{-6pt}{1..1 criterion}
\plabr{reference}{-8pt}{1..1 externalActChoice}
\plab{comp4}{6pt}{1..1 clinicalStatement}

% ================= ORANGE FRAMES =================
\fill[goldbar] (741,0) rectangle (753,702);
\fill[goldbar] (741,293) rectangle (757,702);
\fill[goldbar] (1042,0) rectangle (1053,702);
\fill[goldbar] (1042,437) rectangle (1057,702);
\fill[goldbar] (741,293) rectangle (1053,305);
\fill[goldbar] (741,423) rectangle (1057,437);
\fill[goldbar] (1042,0) rectangle (1736,6);
\fill[goldbar] (1733,0) rectangle (1736,702);
\end{tikzpicture}
\end{document}
